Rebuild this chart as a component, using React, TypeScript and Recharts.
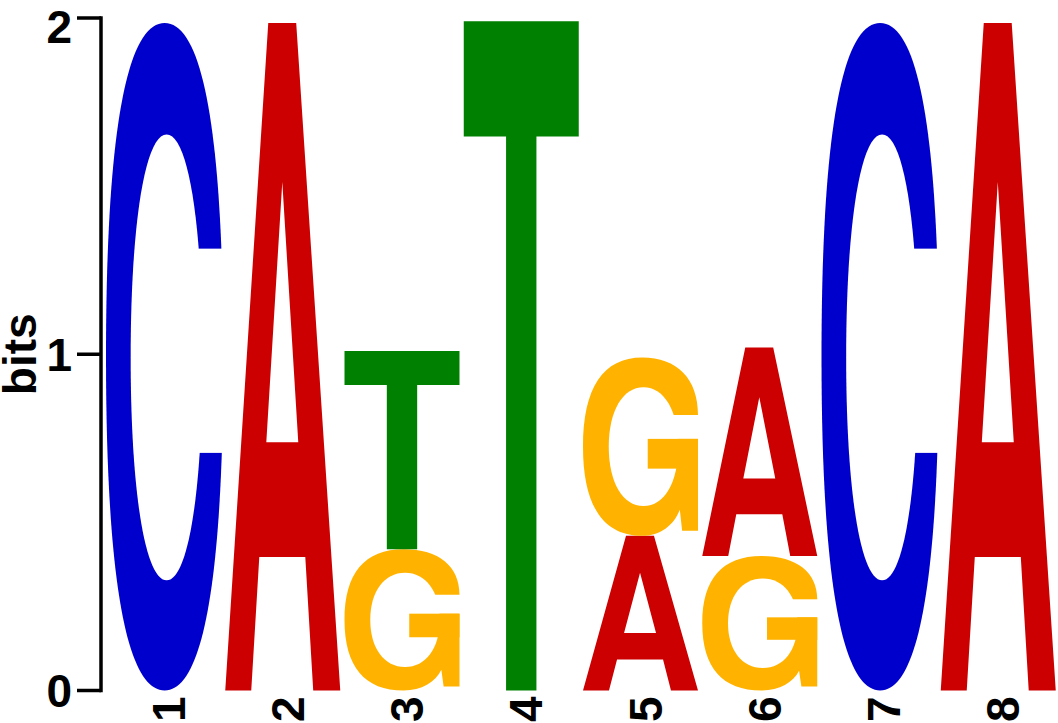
import React from "react";
import { BarChart, Bar, XAxis, YAxis, Label } from "recharts";

// sequence logo, 8 positions, stacked letters (bottom letter, then top letter)
const positions = ["1", "2", "3", "4", "5", "6", "7", "8"];
const lowerLetters = ["C", "A", "G", "T", "A", "G", "C", "A"];
const lowerBits = [1.985, 1.985, 0.42, 1.99, 0.46, 0.4, 1.985, 1.985];
const upperLetters = ["", "", "T", "", "G", "A", "", ""];
const upperBits = [0, 0, 0.59, 0, 0.53, 0.62, 0, 0];
const bitTicks = [0, 1, 2];

const letterColors: Record<string, string> = {
  A: "#CC0000",
  C: "#0000CC",
  G: "#FFB300",
  T: "#008000",
};

const FONT = '"Liberation Sans", Arial, Helvetica, sans-serif';

const rows = positions.map((pos, i) => ({
  pos,
  lo: lowerBits[i],
  hi: upperBits[i],
  loLetter: lowerLetters[i],
  hiLetter: upperLetters[i],
}));

// rounded "squarish" oval, helvetica-like
function oval(cx: number, cy: number, rx: number, ry: number, k: number) {
  return (
    `M${cx + rx} ${cy}` +
    `C${cx + rx} ${cy + k * ry} ${cx + k * rx} ${cy + ry} ${cx} ${cy + ry}` +
    `C${cx - k * rx} ${cy + ry} ${cx - rx} ${cy + k * ry} ${cx - rx} ${cy}` +
    `C${cx - rx} ${cy - k * ry} ${cx - k * rx} ${cy - ry} ${cx} ${cy - ry}` +
    `C${cx + k * rx} ${cy - ry} ${cx + rx} ${cy - k * ry} ${cx + rx} ${cy}Z`
  );
}

// glyphs drawn in a 100 x 100 box, stretched to the bar
const glyphParts = (letter: string, color: string) => {
  switch (letter) {
    case "A":
      return (
        <path
          fill={color}
          fillRule="evenodd"
          d="M0 100L37.4 0H61.7L100 100H76.5L69.6 80H29.6L22.6 100Z M49.6 23.8L63.5 62.8H35.7Z"
        />
      );
    case "T":
      return <path fill={color} d="M0 0H100V17.2H63.2V100H36.8V17.2H0Z" />;
    case "C":
      return (
        <>
          <path fill={color} d={oval(51, 50, 51, 50, 0.66)} />
          <path fill="#fff" d={oval(52.7, 50.1, 31.25, 33.4, 0.6)} />
          <rect fill="#fff" x={60} y={33.8} width={43} height={30.6} />
        </>
      );
    case "G":
      return (
        <>
          <path
            fill={color}
            d="M51.5 0C17.5 0 0 17 0 50C0 83 17.5 100 51.5 100C67 100 79 94 84.2 85.3L86.2 97.1H100V32.2C100 12 82 0 51.5 0Z"
          />
          <path fill="#fff" d={oval(52.6, 50, 30.2, 33.3, 0.6)} />
          <rect fill="#fff" x={60} y={32.2} width={43} height={13.4} />
          <rect fill={color} x={56.3} y={45.6} width={43.7} height={16.7} />
        </>
      );
    default:
      return null;
  }
};

const Glyph = (props: any) => {
  const { x, y, width, height, letter } = props;
  if (!letter || !height || height <= 0) return null;
  return (
    <g transform={`translate(${x},${y}) scale(${width / 100},${height / 100})`}>
      {glyphParts(letter, letterColors[letter])}
    </g>
  );
};

const PosTick = (props: any) => {
  const { x, y, payload } = props;
  return (
    <text
      transform={`translate(${x + 21},${y}) rotate(-90)`}
      textAnchor="end"
      fontFamily={FONT}
      fontWeight="bold"
      fontSize={46}
      fill="#000"
    >
      {payload.value}
    </text>
  );
};

export default function App() {
  return (
    <div style={{ position: "absolute", left: 0, top: 0, background: "#fff" }}>
      <BarChart
        width={1058}
        height={723}
        data={rows}
        margin={{ top: 18, right: 0, bottom: 0, left: 0 }}
        barSize={115}
      >
        <XAxis
          dataKey="pos"
          height={32.5}
          padding={{ left: 3, right: 0 }}
          axisLine={false}
          tickLine={false}
          tickSize={0}
          tickMargin={6}
          interval={0}
          tick={<PosTick />}
        />
        <YAxis
          type="number"
          domain={[0, 2]}
          ticks={bitTicks}
          width={101}
          tickSize={24}
          tickMargin={5}
          axisLine={{ stroke: "#000", strokeWidth: 3.5, strokeLinecap: "square" }}
          tickLine={{ stroke: "#000", strokeWidth: 3.5 }}
          tick={{ fontSize: 46, fontWeight: "bold", fill: "#000", fontFamily: FONT }}
        >
          <Label
            content={(p: any) => {
              const vb = p.viewBox || { y: 18, height: 672.5 };
              const cy = vb.y + vb.height / 2;
              return (
                <text
                  transform={`translate(36,${cy}) rotate(-90)`}
                  textAnchor="middle"
                  fontFamily={FONT}
                  fontWeight="bold"
                  fontSize={46}
                  fill="#000"
                >
                  bits
                </text>
              );
            }}
          />
        </YAxis>
        <Bar
          dataKey="lo"
          stackId="s"
          isAnimationActive={false}
          shape={(p: any) => <Glyph {...p} letter={p.payload.loLetter} />}
        />
        <Bar
          dataKey="hi"
          stackId="s"
          isAnimationActive={false}
          shape={(p: any) => <Glyph {...p} letter={p.payload.hiLetter} />}
        />
      </BarChart>
    </div>
  );
}
